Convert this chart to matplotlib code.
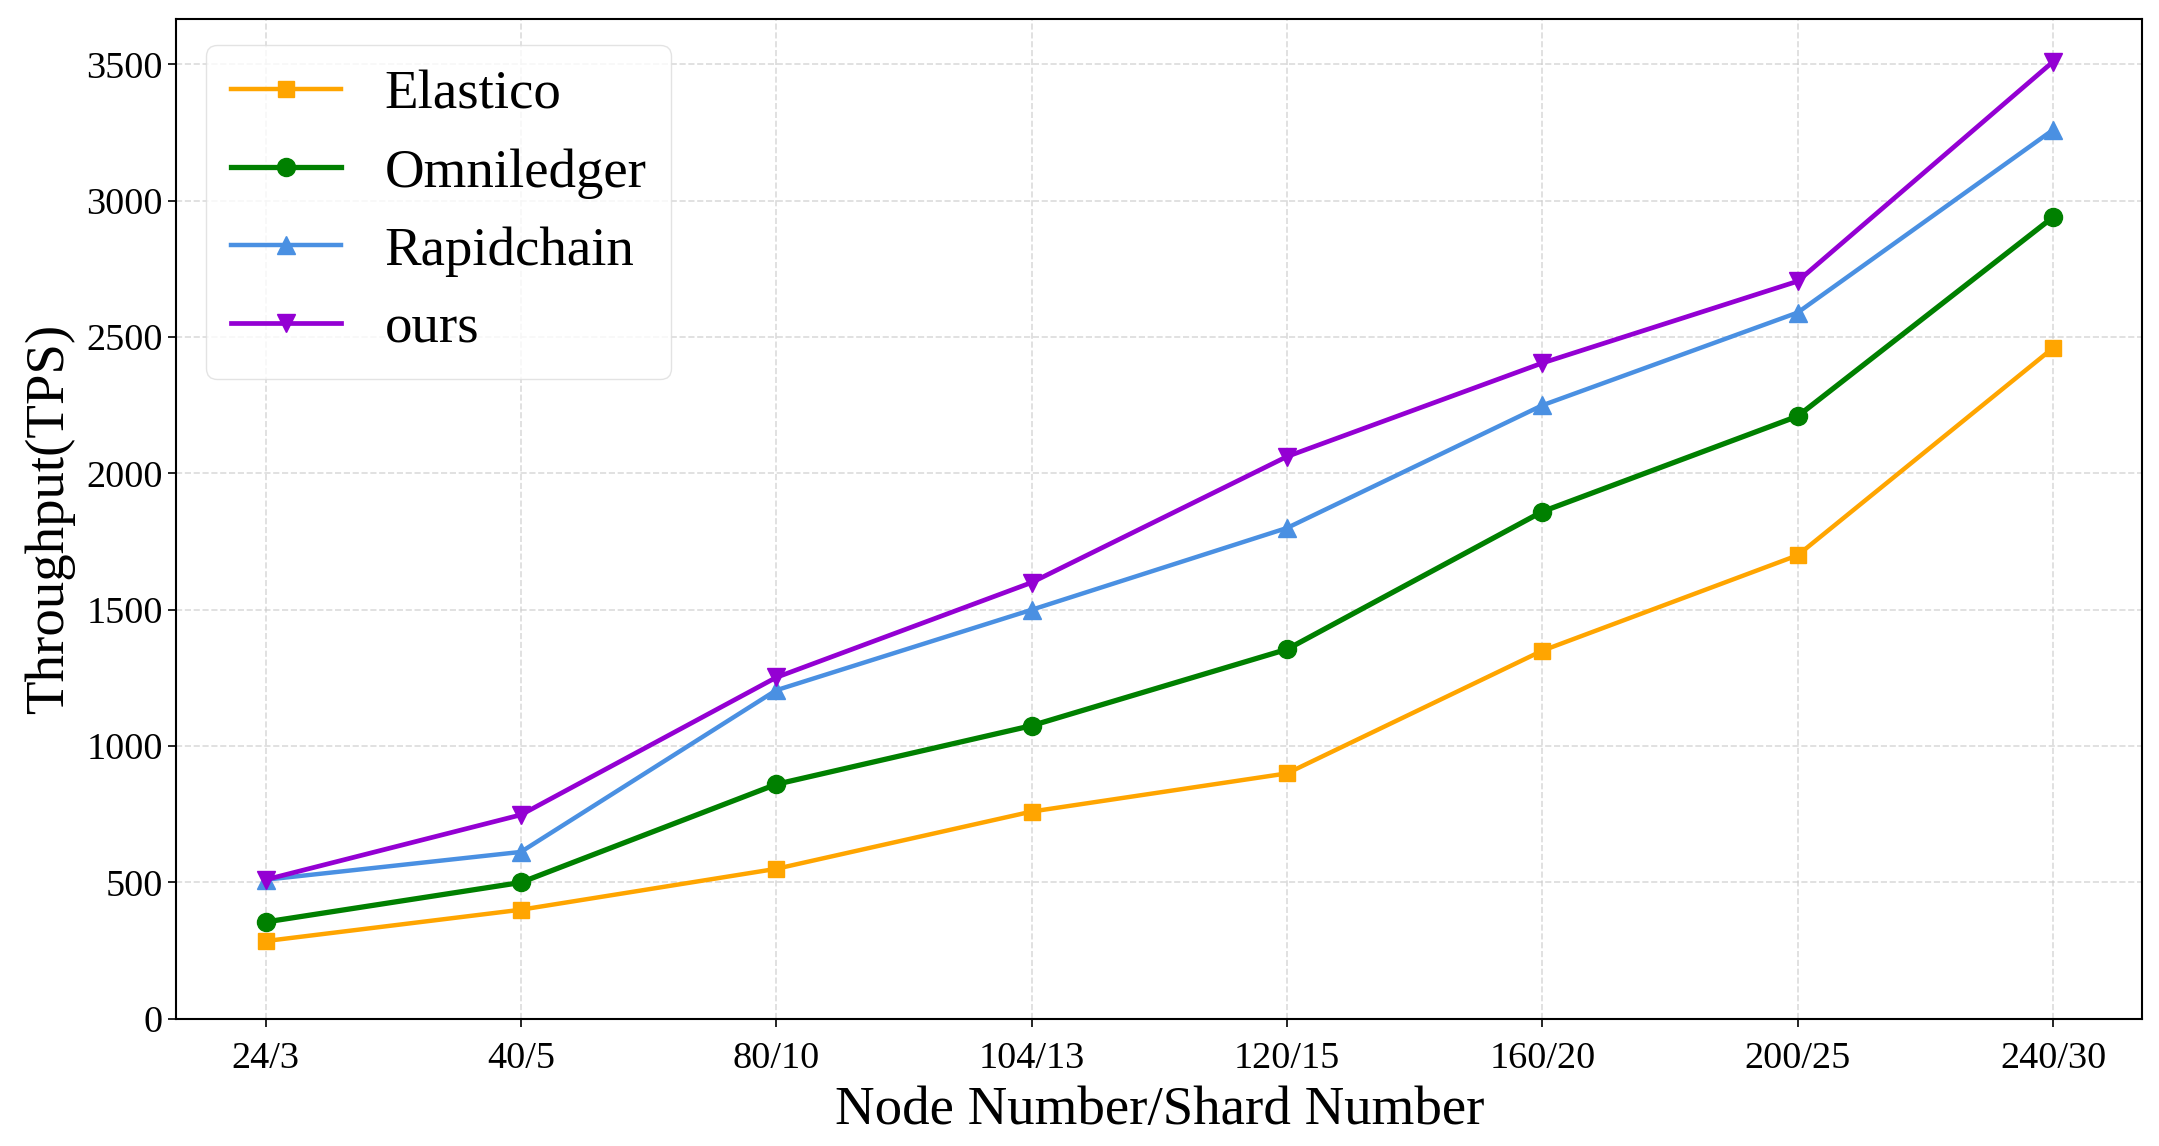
import matplotlib
matplotlib.use("Agg")
import matplotlib.pyplot as plt

categories = ["24/3", "40/5", "80/10", "104/13", "120/15", "160/20", "200/25", "240/30"]
elastico = [285, 400, 550, 760, 900, 1350, 1700, 2460]
omniledger = [355, 500, 860, 1075, 1355, 1860, 2210, 2940]
rapidchain = [510, 612, 1205, 1500, 1800, 2250, 2590, 3260]
ours = [510, 748, 1252, 1600, 2062, 2405, 2705, 3510]

plt.rcParams['font.family'] = ['Liberation Serif', 'DejaVu Serif']

fig = plt.figure(figsize=(21.59, 11.46), dpi=100)
ax = fig.add_axes([0.0816, 0.111, 0.9107, 0.872])

x = list(range(len(categories)))
ax.plot(x, elastico, color='#FFA500', marker='s', lw=3.2, ms=12, label='Elastico')
ax.plot(x, omniledger, color='#008000', marker='o', lw=3.8, ms=13, label='Omniledger')
ax.plot(x, rapidchain, color='#4A90E2', marker='^', lw=3.2, ms=13, label='Rapidchain')
ax.plot(x, ours, color='#9400D3', marker='v', lw=3.4, ms=13, label='ours')

ax.set_xticks(x)
ax.set_xticklabels(categories)
ax.set_ylim(0, 3665)
ax.set_xlim(-0.35, 7.35)
ax.set_yticks([0, 500, 1000, 1500, 2000, 2500, 3000, 3500])
ax.tick_params(labelsize=27.5, length=6, width=1.2)
ax.tick_params(axis='x', pad=10)
ax.grid(True, linestyle='--', color='#cccccc', alpha=0.7, lw=1.2)
for s in ax.spines.values():
    s.set_linewidth(1.5)

ax.set_xlabel('Node Number/Shard Number', fontsize=39.5, labelpad=7)
ax.set_ylabel('Throughput(TPS)', fontsize=39.5, labelpad=8)

leg = ax.legend(loc='upper left', fontsize=39.5, frameon=True, fancybox=True,
                handlelength=2.0, borderpad=0.45, labelspacing=0.5,
                handletextpad=0.8, borderaxespad=0,
                bbox_to_anchor=(0.0154, 0.974))
leg.get_frame().set_edgecolor('#dddddd')

fig.savefig('out.png', dpi=100)
